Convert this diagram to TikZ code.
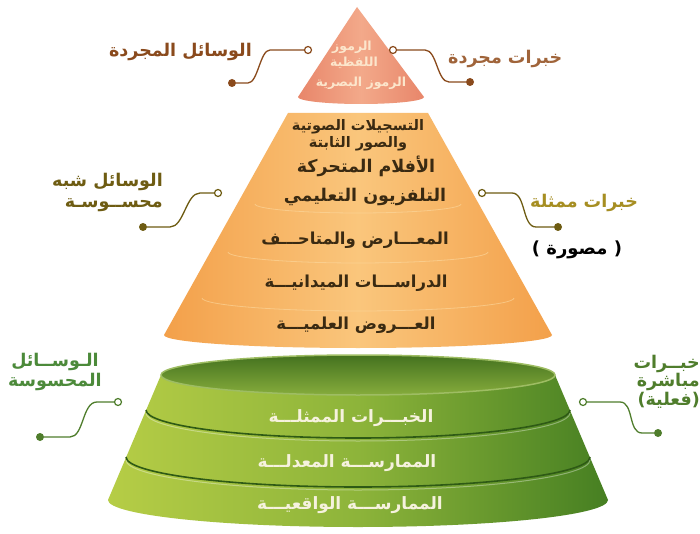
\documentclass[tikz,border=0pt]{standalone}
\usepackage{fontspec}
\TeXXeTstate=1
\newfontfamily\arfont[Script=Arabic]{DejaVu Sans}
\newfontfamily\plainfont{DejaVu Sans}
\newcommand{\AR}[1]{\beginR#1\endR}
\definecolor{brownA}{HTML}{8A4A1C}
\definecolor{brownB}{HTML}{A0643A}
\definecolor{oliveA}{HTML}{6E5C12}
\definecolor{oliveB}{HTML}{A68E22}
\definecolor{greenA}{HTML}{4C8A3A}
\definecolor{greenB}{HTML}{4F7D2C}
\definecolor{salmon}{HTML}{E8866A}
\definecolor{salmonL}{HTML}{F3A98A}
\definecolor{orangeD}{HTML}{F3A04A}
\definecolor{orangeL}{HTML}{FAC67C}
\definecolor{orangeLine}{HTML}{FCD9A0}
\definecolor{gLight}{HTML}{B6CD46}
\definecolor{gMid}{HTML}{8DB43A}
\definecolor{gDark}{HTML}{467F22}
\definecolor{gTopD}{HTML}{44721F}
\definecolor{gTopL}{HTML}{86AC3C}
\definecolor{gLine}{HTML}{2E5A15}
\definecolor{txtDark}{HTML}{3A2A12}
\definecolor{txtLight}{HTML}{F6F2DE}
\definecolor{txtTop}{HTML}{FCE6CC}
\tikzset{
  ring/.style={circle, draw, line width=1.2pt, fill=white, inner sep=0pt, minimum size=7pt},
  dotnode/.style={circle, fill, inner sep=0pt, minimum size=8pt},
  conn/.style={line width=1.3pt},
  lbl/.style={font=\arfont\bfseries\fontsize{17.5}{20}\selectfont, inner sep=0pt},
  toptxt/.style={font=\arfont\bfseries\fontsize{12.5}{14}\selectfont, inner sep=0pt, text=txtTop},
  midsmall/.style={font=\arfont\bfseries\fontsize{14.5}{16}\selectfont, inner sep=0pt, text=txtDark},
  midbig/.style={font=\arfont\bfseries\fontsize{17.5}{20}\selectfont, inner sep=0pt, text=txtDark},
  midtxt/.style={font=\arfont\bfseries\fontsize{16.5}{19}\selectfont, inner sep=0pt, text=txtDark},
  grtxt/.style={font=\arfont\bfseries\fontsize{17}{20}\selectfont, inner sep=0pt, text=txtLight},
}
\begin{document}
\begin{tikzpicture}[x=1pt,y=-1pt]
\useasboundingbox (0,0) rectangle (700,534);
\fill[white] (0,0) rectangle (700,534);

% ---------- top triangle ----------
\shade[left color=salmon, right color=salmon, middle color=salmonL]
  (357,7) -- (424,97) .. controls (424,100.9) and (395.8,104) .. (361,104)
  .. controls (326.2,104) and (298,100.9) .. (298,97) -- cycle;
\node[toptxt] (t1) at (352,47) {\AR{الرموز}};
\node[toptxt] (t2) at (354,63) {\AR{اللفظية}};
\node[toptxt] (t3) at (361,83) {\AR{الرموز البصرية}};

% ---------- middle (orange) frustum ----------
\shade[left color=orangeD, right color=orangeD, middle color=orangeL]
  (288,113) -- (428,113) -- (552,335) .. controls (552,342.2) and (465.1,348) .. (358,348)
  .. controls (250.9,348) and (164,342.2) .. (164,335) -- cycle;
\begin{scope}[orangeLine, line width=0.8pt, opacity=0.6]
  \draw (255,204) .. controls (255,209) and (302,213) .. (358,213) .. controls (414,213) and (461,209) .. (461,204);
  \draw (228,252) .. controls (228,258) and (288,263) .. (358,263) .. controls (428,263) and (488,258) .. (488,252);
  \draw (202,298) .. controls (202,305) and (274,311) .. (358,311) .. controls (442,311) and (514,305) .. (514,298);
\end{scope}
\node[midsmall] (m1) at (358,127) {\AR{التسجيلات الصوتية}};
\node[midsmall] (m2) at (358,144) {\AR{والصور الثابتة}};
\node[midbig] (m3) at (366,166) {\AR{الأفلام المتحركة}};
\node[midbig] (m4) at (365,197) {\AR{التلفزيون التعليمي}};
\node[midtxt] (m5) at (355,240) {\AR{المعـــارض والمتاحـــف}};
\node[midtxt] (m6) at (356,283) {\AR{الدراســـات الميدانيـــة}};
\node[midtxt] (m7) at (356,325) {\AR{العـــروض العلميـــة}};

% ---------- bottom (green) frustum ----------
\shade[left color=gLight, right color=gDark, middle color=gMid]
  (161,375) -- (108,500) .. controls (108,514.9) and (219.9,527) .. (358,527)
  .. controls (496.1,527) and (608,514.9) .. (608,500) -- (555,375) -- cycle;
\shade[top color=gTopD, bottom color=gTopL, draw=gTopL!80!white, line width=1.5pt]
  (358,375) ellipse [x radius=197, y radius=20];
\begin{scope}[line width=1.6pt]
  \draw[gLine] (146,410) .. controls (146,425.5) and (240.8,438) .. (358,438) .. controls (475.2,438) and (570,425.5) .. (570,410);
  \draw[gLine] (126,457) .. controls (126,473.6) and (229.9,487) .. (358,487) .. controls (486.1,487) and (590,473.6) .. (590,457);
\end{scope}
\begin{scope}[white, opacity=0.35, line width=1pt]
  \draw (146,413) .. controls (146,428.5) and (240.8,441) .. (358,441) .. controls (475.2,441) and (570,428.5) .. (570,413);
  \draw (126,460) .. controls (126,476.6) and (229.9,490) .. (358,490) .. controls (486.1,490) and (590,476.6) .. (590,460);
\end{scope}
\node[grtxt] (g1) at (351,418) {\AR{الخبـــرات الممثلـــة}};
\node[grtxt] (g2) at (347,463) {\AR{الممارســـة المعدلـــة}};
\node[grtxt] (g3) at (350,505) {\AR{الممارســـة الواقعيـــة}};

% ---------- side labels ----------
% abstract means (left)
\node[lbl, text=brownA, anchor=east] (L1) at (252,52) {\AR{الوسائل المجردة}};
\node[ring, draw=brownA] (o1) at (308,50) {};
\node[dotnode, fill=brownA] (d1) at (232,83) {};
\draw[conn, brownA] (o1) -- (270,50) .. controls (260,50) and (258,83) .. (248,83) -- (d1);

% abstract experiences (right)
\node[lbl, text=brownB, anchor=west] (R1) at (448,59) {\AR{خبرات مجردة}};
\node[ring, draw=brownA] (o2) at (393,50) {};
\node[dotnode, fill=brownA] (d2) at (470,82) {};
\draw[conn, brownA] (o2) -- (425,50) .. controls (437,50) and (437,82) .. (449,82) -- (d2);

% semi-concrete means (left)
\node[lbl, text=oliveA, anchor=east] (L2a) at (163,182) {\AR{الوسائل شبه}};
\node[lbl, text=oliveA, anchor=east] (L2b) at (163,205) {\AR{محســوسـة}};
\node[ring, draw=oliveA] (o3) at (218,193) {};
\node[dotnode, fill=oliveA] (d3) at (143,227) {};
\draw[conn, oliveA] (o3) -- (200,193) .. controls (186,193) and (184,227) .. (170,227) -- (d3);

% represented experiences (right)
\node[lbl, text=oliveB, anchor=west] (R2) at (530,203) {\AR{خبرات ممثلة}};
\node[lbl, text=black, font=\arfont\bfseries\fontsize{18}{20}\selectfont] (R2b) at (577,250) {{\plainfont\bfseries(} \AR{مصورة} {\plainfont\bfseries)}};
\node[ring, draw=oliveA] (o4) at (482,193) {};
\node[dotnode, fill=oliveA] (d4) at (558,227) {};
\draw[conn, oliveA] (o4) -- (512,193) .. controls (526,193) and (522,227) .. (536,227) -- (d4);

% concrete means (left)
\node[lbl, text=greenA] (L3a) at (55,362) {\AR{الـوســائل}};
\node[lbl, text=greenA] (L3b) at (55,382) {\AR{المحسوسة}};
\node[ring, draw=greenB] (o5) at (118,402) {};
\node[dotnode, fill=greenB] (d5) at (40,437) {};
\draw[conn, greenB] (o5) -- (97,402) .. controls (82,402) and (84,437) .. (70,437) -- (d5);

% direct experiences (right)
\node[lbl, text=greenB, anchor=east] (R3a) at (700,364) {\AR{خبــرات}};
\node[lbl, text=greenB, anchor=east] (R3b) at (700,382) {\AR{مباشرة}};
\node[lbl, text=greenB, anchor=east] (R3c) at (700,400) {{\plainfont\bfseries(}\AR{فعلية}{\plainfont\bfseries)}};
\node[ring, draw=greenB] (o6) at (583,402) {};
\node[dotnode, fill=greenB] (d6) at (658,433) {};
\draw[conn, greenB] (o6) -- (620,402) .. controls (634,402) and (628,433) .. (642,433) -- (d6);
\end{tikzpicture}
\end{document}
